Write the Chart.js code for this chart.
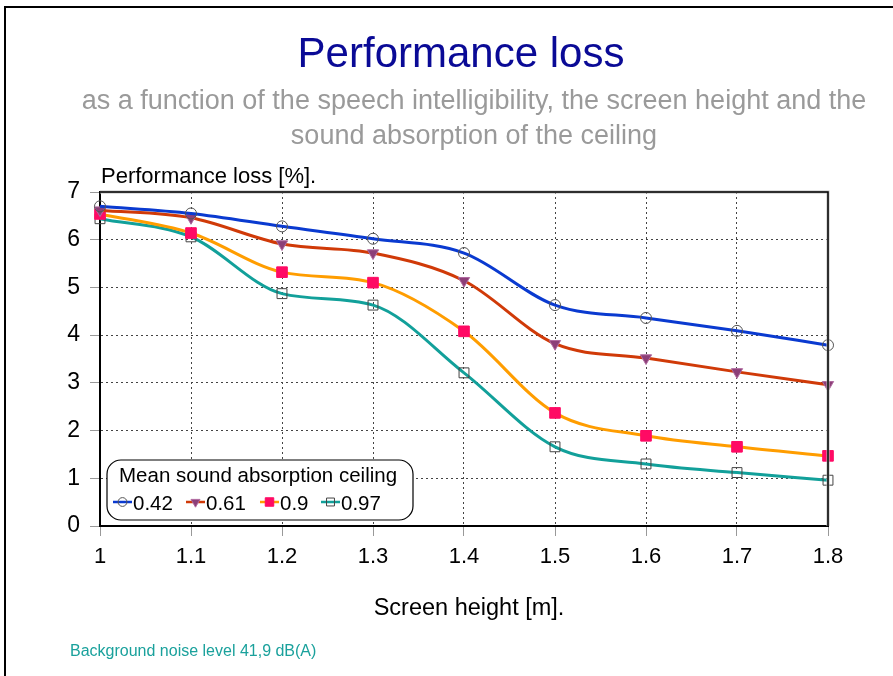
<!DOCTYPE html>
<html>
<head>
<meta charset="utf-8">
<script src="https://cdn.jsdelivr.net/npm/chart.js@4"></script>
<style>
    html, body { margin: 0; padding: 0; background: #fff; }
    #wrap { width: 893px; height: 676px; position: relative; }
</style>
</head>
<body>
<div id="wrap"><canvas id="lossChart" width="893" height="676"></canvas></div>
<script>
// Screen height [m]
const screenHeights = [1, 1.1, 1.2, 1.3, 1.4, 1.5, 1.6, 1.7, 1.8];

// Performance loss [%] per ceiling absorption
const loss042 = [6.70, 6.55, 6.28, 6.02, 5.72, 4.63, 4.36, 4.09, 3.79];
const loss061 = [6.62, 6.46, 5.91, 5.72, 5.14, 3.82, 3.52, 3.23, 2.96];
const loss090 = [6.54, 6.14, 5.32, 5.10, 4.08, 2.37, 1.89, 1.66, 1.47];
const loss097 = [6.44, 6.06, 4.87, 4.63, 3.21, 1.66, 1.30, 1.12, 0.96];

const seriesLabels = ['0.42', '0.61', '0.9', '0.97'];
const yTicks = [0, 1, 2, 3, 4, 5, 6, 7];

const FONT = '"Liberation Sans", Arial, sans-serif';

function toPoints(values) {
    return screenHeights.map((x, i) => ({ x: x, y: values[i] }));
}

// Series styles
const styles = [
    { line: '#0a3ad0', pointStyle: 'circle', radius: 5.5, fill: 'rgba(0,0,0,0)', stroke: '#555', rotation: 0 },
    { line: '#d03a08', pointStyle: 'triangle', radius: 6.5, fill: '#8c3f78', stroke: '#b06aa0', rotation: 180 },
    { line: '#ff9d00', pointStyle: 'rect', radius: 7.5, fill: '#ff0a64', stroke: '#ff0a64', rotation: 0 },
    { line: '#12a09a', pointStyle: 'rect', radius: 7, fill: 'rgba(0,0,0,0)', stroke: '#444', rotation: 0 }
];

const allSeries = [loss042, loss061, loss090, loss097];

const datasets = allSeries.map((vals, i) => ({
    label: seriesLabels[i],
    data: toPoints(vals),
    borderColor: styles[i].line,
    borderWidth: 3,
    cubicInterpolationMode: 'monotone',
    pointStyle: styles[i].pointStyle,
    pointRadius: styles[i].radius,
    pointRotation: styles[i].rotation,
    pointBackgroundColor: styles[i].fill,
    pointBorderColor: styles[i].stroke,
    pointBorderWidth: 1,
    clip: false
}));

// Frame, titles, plot box and legend
const decorations = {
    id: 'decorations',
    beforeDraw(chart) {
        const ctx = chart.ctx;
        ctx.save();
        ctx.fillStyle = '#fff';
        ctx.fillRect(0, 0, chart.width, chart.height);
        // outer frame (left + top)
        ctx.strokeStyle = '#000';
        ctx.lineWidth = 2;
        ctx.beginPath();
        ctx.moveTo(5, chart.height);
        ctx.lineTo(5, 7);
        ctx.lineTo(chart.width, 7);
        ctx.stroke();

        ctx.textBaseline = 'alphabetic';
        ctx.textAlign = 'center';
        ctx.fillStyle = '#0a0a96';
        ctx.font = '42px ' + FONT;
        ctx.fillText('Performance loss', 461, 67);

        ctx.fillStyle = '#9a9a9a';
        ctx.font = '27px ' + FONT;
        ctx.fillText('as a function of the speech intelligibility, the screen height and the', 474, 109);
        ctx.fillText('sound absorption of the ceiling', 474, 144);

        ctx.textAlign = 'left';
        ctx.fillStyle = '#000';
        ctx.font = '22px ' + FONT;
        ctx.fillText('Performance loss [%].', 101, 183);

        ctx.textAlign = 'center';
        ctx.font = '23.5px ' + FONT;
        ctx.fillText('Screen height [m].', 469, 615);

        ctx.textAlign = 'left';
        ctx.fillStyle = '#1aa19c';
        ctx.font = '16px ' + FONT;
        ctx.fillText('Background noise level 41,9 dB(A)', 70, 656);
        ctx.restore();
    },
    afterDatasetsDraw(chart) {
        const ctx = chart.ctx;
        const a = chart.chartArea;
        ctx.save();
        // top and right border of plot box
        ctx.strokeStyle = '#bbb';
        ctx.lineWidth = 3;
        ctx.beginPath();
        ctx.moveTo(a.left, a.top);
        ctx.lineTo(a.right, a.top);
        ctx.lineTo(a.right, a.bottom);
        ctx.stroke();
        ctx.strokeStyle = '#000';
        ctx.lineWidth = 1.5;
        ctx.beginPath();
        ctx.moveTo(a.left, a.top);
        ctx.lineTo(a.right, a.top);
        ctx.lineTo(a.right, a.bottom);
        ctx.stroke();

        // legend box
        const lx = 107, ly = 460, lw = 306, lh = 60, r = 14;
        ctx.beginPath();
        ctx.moveTo(lx + r, ly);
        ctx.arcTo(lx + lw, ly, lx + lw, ly + lh, r);
        ctx.arcTo(lx + lw, ly + lh, lx, ly + lh, r);
        ctx.arcTo(lx, ly + lh, lx, ly, r);
        ctx.arcTo(lx, ly, lx + lw, ly, r);
        ctx.closePath();
        ctx.fillStyle = '#fff';
        ctx.fill();
        ctx.strokeStyle = '#000';
        ctx.lineWidth = 1.2;
        ctx.stroke();

        ctx.fillStyle = '#000';
        ctx.font = '20.5px ' + FONT;
        ctx.textAlign = 'left';
        ctx.textBaseline = 'alphabetic';
        ctx.fillText('Mean sound absorption ceiling', 119, 482);

        const itemX = [113, 186, 260, 321];
        const rowY = 502;
        seriesLabels.forEach((lab, i) => {
            const x0 = itemX[i];
            ctx.strokeStyle = styles[i].line;
            ctx.lineWidth = 2.5;
            ctx.beginPath();
            ctx.moveTo(x0, rowY);
            ctx.lineTo(x0 + 19, rowY);
            ctx.stroke();
            ctx.fillStyle = styles[i].fill;
            ctx.strokeStyle = styles[i].stroke;
            ctx.lineWidth = 1;
            Chart.helpers.drawPoint(ctx, {
                pointStyle: styles[i].pointStyle,
                radius: styles[i].radius * 0.8,
                rotation: styles[i].rotation,
                borderWidth: 1
            }, x0 + 9.5, rowY);
            ctx.fillStyle = '#000';
            ctx.font = '20.5px ' + FONT;
            ctx.fillText(lab, x0 + 20, rowY + 8);
        });
        ctx.restore();
    }
};

const ctx = document.getElementById('lossChart').getContext('2d');
new Chart(ctx, {
    type: 'line',
    data: { datasets: datasets },
    options: {
        responsive: false,
        animation: false,
        layout: { padding: { top: 192, right: 65, left: 0, bottom: 0 } },
        plugins: {
            legend: { display: false },
            tooltip: { enabled: false }
        },
        scales: {
            x: {
                type: 'linear',
                min: 1,
                max: 1.8,
                afterBuildTicks(scale) {
                    scale.ticks = screenHeights.map(v => ({ value: v }));
                },
                afterFit(scale) { scale.height = 150; },
                ticks: {
                    color: '#000',
                    font: { family: FONT, size: 22 },
                    padding: 8,
                    callback: v => String(Math.round(v * 10) / 10)
                },
                grid: {
                    color: '#444',
                    tickColor: '#999',
                    tickLength: 10,
                    tickBorderDash: []
                },
                border: { color: '#000', width: 2, dash: [2, 3] }
            },
            y: {
                min: 0,
                max: 7,
                afterBuildTicks(scale) {
                    scale.ticks = yTicks.map(v => ({ value: v }));
                },
                afterFit(scale) { scale.width = 100; },
                ticks: {
                    color: '#000',
                    font: { family: FONT, size: 23 },
                    padding: 10
                },
                grid: {
                    color: '#444',
                    tickColor: '#999',
                    tickLength: 10,
                    tickBorderDash: []
                },
                border: { color: '#000', width: 2, dash: [2, 3] }
            }
        }
    },
    plugins: [decorations]
});
</script>
</body>
</html>
